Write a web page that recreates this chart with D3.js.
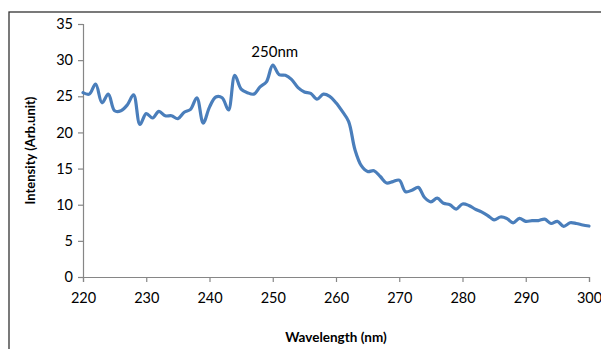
<!DOCTYPE html>
<html>
<head>
<meta charset="utf-8">
<script src="https://cdn.jsdelivr.net/npm/d3@7"></script>
<style>
  html, body { margin: 0; padding: 0; background: #fff; }
  svg { display: block; }
</style>
</head>
<body>
<svg id="chart" width="601" height="349"></svg>
<script>
// ---- data ----
const wavelengths = d3.range(220, 301, 1);
const intensity = [
  25.5, 25.3, 26.7, 24.1, 25.3, 23.0, 23.0, 23.8, 25.2, 21.1,
  22.6, 22.0, 22.9, 22.3, 22.3, 21.9, 22.8, 23.2, 24.8, 21.3,
  23.5, 24.9, 24.8, 23.1, 27.9, 26.0, 25.5, 25.3, 26.3, 27.0,
  29.3, 28.0, 27.9, 27.3, 26.2, 25.6, 25.4, 24.6, 25.3, 25.0,
  24.1, 22.9, 21.5, 17.6, 15.4, 14.6, 14.7, 13.9, 13.0, 13.2,
  13.4, 11.8, 12.0, 12.4, 11.0, 10.4, 10.9, 10.2, 10.0, 9.4,
  10.1, 9.9, 9.4, 9.0, 8.5, 7.9, 8.3, 8.1, 7.5, 8.1,
  7.7, 7.8, 7.8, 8.0, 7.4, 7.7, 7.0, 7.5, 7.4, 7.2,
  7.05
];
const xTicks = [220, 230, 240, 250, 260, 270, 280, 290, 300];
const yTicks = [0, 5, 10, 15, 20, 25, 30, 35];
const xTitle = "Wavelength (nm)";
const yTitle = "Intensity (Arb.unit)";
const annotation = { x: 250, label: "250nm" };

// ---- drawing ----
const svg = d3.select("#chart");
const font = "Lato, 'Open Sans', sans-serif";
const axisColor = "#868686";

svg.append("rect").attr("width", 601).attr("height", 349).attr("fill", "#fff");
svg.append("rect")
  .attr("x", 9).attr("y", 12).attr("width", 620).attr("height", 360)
  .attr("fill", "none").attr("stroke", "#333").attr("stroke-width", 1.3);

const x = d3.scaleLinear().domain([220, 300]).range([83, 589]);
const y = d3.scaleLinear().domain([0, 35]).range([277, 24]);

// y axis
const gy = svg.append("g").attr("transform", `translate(${x(220)},0)`)
  .call(d3.axisLeft(y).tickValues(yTicks).tickSize(5).tickPadding(5).tickFormat(d3.format("d")));
// x axis
const gx = svg.append("g").attr("transform", `translate(0,${y(0)})`)
  .call(d3.axisBottom(x).tickValues(xTicks).tickSize(5).tickPadding(11).tickFormat(d3.format("d")));

[gx, gy].forEach(g => {
  g.select(".domain").attr("stroke", axisColor).attr("stroke-width", 1.2);
  g.selectAll(".tick line").attr("stroke", axisColor).attr("stroke-width", 1.2);
  g.selectAll(".tick text").attr("fill", "#000")
    .style("font-family", font).style("font-size", "14.5px");
});

// line
const line = d3.line()
  .x((d, i) => x(wavelengths[i]))
  .y(d => y(d))
  .curve(d3.curveCatmullRom.alpha(0.5));

svg.append("path")
  .datum(intensity)
  .attr("fill", "none")
  .attr("stroke", "#4a7ebb")
  .attr("stroke-width", 3.2)
  .attr("stroke-linejoin", "round")
  .attr("stroke-linecap", "round")
  .attr("d", line);

// annotation
svg.append("text")
  .attr("x", x(annotation.x) + 2).attr("y", 57)
  .attr("text-anchor", "middle")
  .style("font-family", font).style("font-size", "15px").attr("fill", "#000")
  .text(annotation.label);

// axis titles
svg.append("text")
  .attr("x", (x(220) + x(300)) / 2).attr("y", 342)
  .attr("text-anchor", "middle")
  .style("font-family", font).style("font-size", "13.5px").style("font-weight", "bold")
  .attr("fill", "#000")
  .text(xTitle);

svg.append("text")
  .attr("transform", `translate(35,${(y(0) + y(35)) / 2}) rotate(-90)`)
  .attr("text-anchor", "middle")
  .style("font-family", font).style("font-size", "13px").style("font-weight", "bold")
  .attr("fill", "#000")
  .text(yTitle);
</script>
</body>
</html>
